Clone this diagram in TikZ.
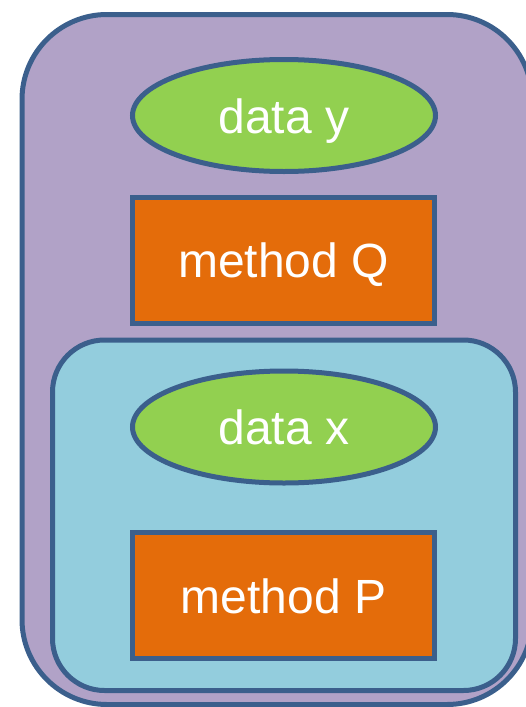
\documentclass[tikz,border=0pt]{standalone}
\usepackage{fontspec}
\setmainfont{Liberation Sans}
\usetikzlibrary{shapes.geometric}

\definecolor{borderblue}{HTML}{3B5F8C}
\definecolor{outerpurple}{HTML}{B1A2C7}
\definecolor{innerblue}{HTML}{93CDDD}
\definecolor{datagreen}{HTML}{92D050}
\definecolor{methodorange}{HTML}{E46C0A}

\begin{document}
\begin{tikzpicture}[
            x = 1pt, y = -1pt, % pixel-like units, y down
            line width = 5pt, % border thickness
            draw = borderblue
        ]

        \tikzstyle{data}=[
        draw = borderblue,
        fill = datagreen,
        ellipse,
        inner sep = 0pt,
        minimum width = 303pt,
        minimum height = 112pt,
        text = white,
        text height = 35pt,
        text depth = 0pt,
        font = \fontsize{48}{56}\selectfont
        ]
        \tikzstyle{method}=[
        draw = borderblue,
        fill = methodorange,
        rectangle,
        inner sep = 0pt,
        minimum width = 302pt,
        minimum height = 126pt,
        text = white,
        text height = 35pt,
        text depth = 0pt,
        font = \fontsize{48}{56}\selectfont
        ]

        \useasboundingbox (0,0) rectangle (526,707);

        % outer and inner containers
        \draw[fill = outerpurple, rounded corners = 85pt] (22,14.5) rectangle (532,704.5);
        \draw[fill = innerblue, rounded corners = 52pt] (52.5,340) rectangle (515.5,690.5);

        \node[data] (datay) at (284,115.5) {data y};
        \node[method] (methodq) at (283.5,260) {method Q};
        \node[data] (datax) at (284,427) {data x};
        \node[method] (methodp) at (283.5,595.5) {method P};
    \end{tikzpicture}
\end{document}
